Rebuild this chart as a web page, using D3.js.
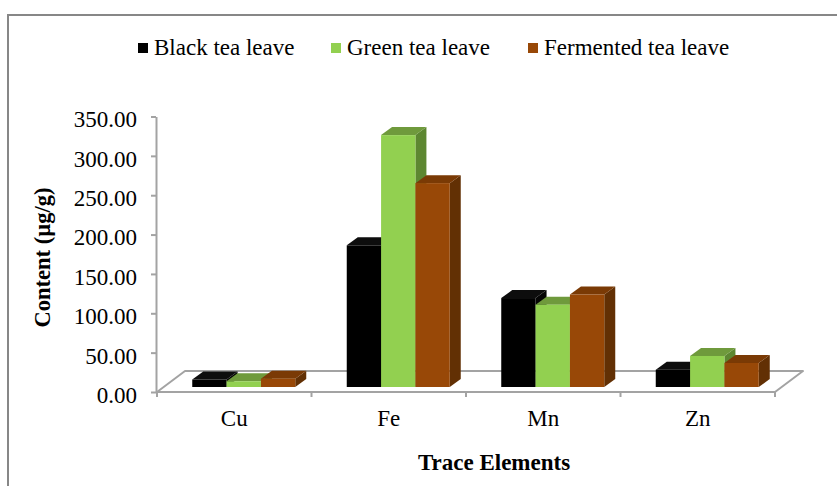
<!DOCTYPE html>
<html>
<head>
<meta charset="utf-8">
<script src="https://cdn.jsdelivr.net/npm/d3@7"></script>
<style>
  html, body { margin: 0; padding: 0; background: #ffffff; }
  svg { display: block; }
  text { font-family: "Liberation Serif", "Times New Roman", serif; fill: #000; }
</style>
</head>
<body>
<script>
// Trace element content of three kinds of tea leaves (µg/g)
const categories = ["Cu", "Fe", "Mn", "Zn"];
const seriesNames = ["Black tea leave", "Green tea leave", "Fermented tea leave"];
const blackTea = [9.5, 180, 113, 22];
const greenTea = [7.3, 320, 104.6, 39.4];
const fermentedTea = [10.6, 259, 117.5, 30.5];
const yTicks = [0, 50, 100, 150, 200, 250, 300, 350];
const yTitle = "Content (µg/g)";
const xTitle = "Trace Elements";

const seriesValues = [blackTea, greenTea, fermentedTea];
// front, top, side colours of each 3-D column
const faceColors = [
  { front: "#000000", top: "#0d0d0d", side: "#050505" },
  { front: "#92D050", top: "#6f9a3c", side: "#5d8731" },
  { front: "#984807", top: "#7a3a05", side: "#623004" }
];

const W = 837, H = 486;
const svg = d3.select("body").append("svg").attr("width", W).attr("height", H);

// outer frame of the chart area
svg.append("rect")
  .attr("x", 8).attr("y", 15).attr("width", 900).attr("height", 600)
  .attr("fill", "#fff").attr("stroke", "#878787").attr("stroke-width", 2);

// front plane scales
const x = d3.scaleBand().domain(categories).range([157, 775]).padding(0);
const xs = d3.scaleBand().domain(seriesNames).range([0, x.bandwidth()])
  .paddingInner(0).paddingOuter(0.75);
const y = d3.scaleLinear().domain([0, 350]).range([392, 116.5]);

// oblique depth of the floor and of the columns
const floorDepth = { dx: 28, dy: -21 };
const barOffset = { dx: 9.5, dy: -5 };
const barDepth = { dx: 11, dy: -8 };

const grid = "#a3a3a3";

// floor outline
const x0 = x.range()[0], x1 = x.range()[1], y0 = y(0);
svg.append("path")
  .attr("d", `M${x0},${y0} L${x1},${y0} L${x1 + floorDepth.dx},${y0 + floorDepth.dy} L${x0 + floorDepth.dx},${y0 + floorDepth.dy} Z`)
  .attr("fill", "none").attr("stroke", grid).attr("stroke-width", 2)
  .attr("stroke-linejoin", "round");

// category tick marks at band boundaries
const tickXs = categories.map(c => x(c)).concat([x1]);
svg.append("g").selectAll("line").data(tickXs).join("line")
  .attr("x1", d => d).attr("x2", d => d)
  .attr("y1", y0).attr("y2", y0 + 5)
  .attr("stroke", grid).attr("stroke-width", 2);

// category labels
svg.append("g").selectAll("text").data(categories).join("text")
  .attr("x", d => x(d) + x.bandwidth() / 2)
  .attr("y", 426)
  .attr("text-anchor", "middle")
  .attr("font-size", 23)
  .text(d => d);

// value axis
const yAxis = d3.axisLeft(y).tickValues(yTicks).tickFormat(d3.format(".2f"))
  .tickSize(5).tickPadding(14).tickSizeOuter(0);
const gy = svg.append("g").attr("transform", "translate(156,0)").call(yAxis);
gy.select(".domain").attr("stroke", grid).attr("stroke-width", 2);
gy.selectAll(".tick line").attr("stroke", grid).attr("stroke-width", 2);
gy.selectAll(".tick text")
  .attr("font-family", "Liberation Serif, Times New Roman, serif")
  .attr("font-size", 23).attr("fill", "#000")
  .attr("dy", "0.45em");

// 3-D columns, painted left to right so neighbours hide hidden faces
const bars = [];
categories.forEach((c, ci) => {
  seriesNames.forEach((s, si) => {
    bars.push({ c, s, si, v: seriesValues[si][ci] });
  });
});

const gBars = svg.append("g");
bars.forEach(b => {
  const left = x(b.c) + xs(b.s) + barOffset.dx;
  const right = left + xs.bandwidth();
  const top = y(b.v) + barOffset.dy;
  const base = y(0) + barOffset.dy;
  const col = faceColors[b.si];
  const g = gBars.append("g");
  g.append("path")
    .attr("d", `M${right},${top} L${right + barDepth.dx},${top + barDepth.dy} L${right + barDepth.dx},${base + barDepth.dy} L${right},${base} Z`)
    .attr("fill", col.side);
  g.append("path")
    .attr("d", `M${left},${top} L${right},${top} L${right + barDepth.dx},${top + barDepth.dy} L${left + barDepth.dx},${top + barDepth.dy} Z`)
    .attr("fill", col.top);
  g.append("rect")
    .attr("x", left).attr("y", top)
    .attr("width", right - left).attr("height", base - top)
    .attr("fill", col.front);
});

// legend
const legendX = [138, 331, 528];
const legend = svg.append("g");
seriesNames.forEach((s, i) => {
  legend.append("rect")
    .attr("x", legendX[i]).attr("y", 43).attr("width", 10).attr("height", 10)
    .attr("fill", faceColors[i].front);
  legend.append("text")
    .attr("x", legendX[i] + 16).attr("y", 55)
    .attr("font-size", 23)
    .text(s);
});

// axis titles
svg.append("text")
  .attr("transform", "translate(50,257.5) rotate(-90)")
  .attr("text-anchor", "middle")
  .attr("font-size", 22.5).attr("font-weight", "bold")
  .text(yTitle);

svg.append("text")
  .attr("x", 494).attr("y", 470)
  .attr("text-anchor", "middle")
  .attr("font-size", 23).attr("font-weight", "bold")
  .text(xTitle);
</script>
</body>
</html>
